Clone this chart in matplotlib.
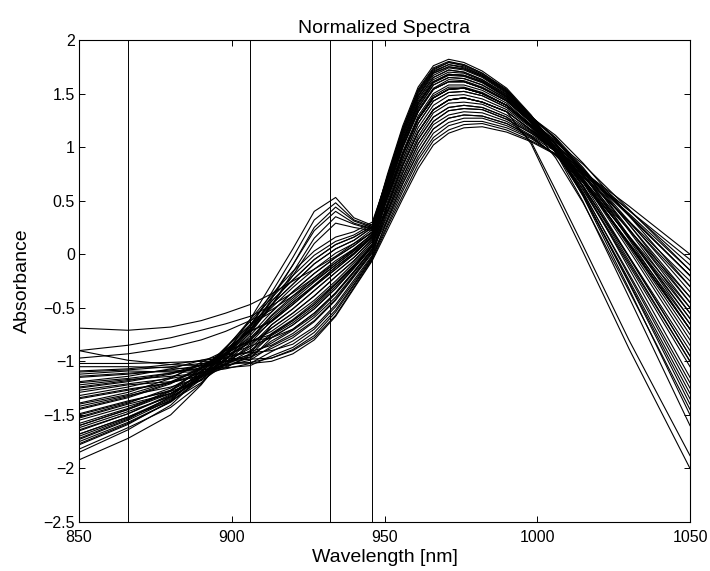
import matplotlib
matplotlib.use("Agg")
from matplotlib import pyplot as plt
from matplotlib.ticker import FuncFormatter

plt.rcParams['font.family'] = ['Liberation Sans', 'DejaVu Sans']

wavelength = [850, 866, 880, 890, 898, 906, 913, 920, 927, 934, 940, 946,
              951, 956, 961, 966, 971, 976, 982, 990, 998, 1006, 1015, 1030, 1050]

# main bundle of normalized spectra
main_spectra = [
    [-1.02, -1.02, -1.01, -1.00, -1.00, -1.02, -1.00, -0.93, -0.80, -0.58, -0.32, -0.06, 0.23, 0.52, 0.80, 1.02, 1.13, 1.18, 1.19, 1.14, 1.05, 0.93, 0.75, 0.41, -0.05],
    [-1.05, -1.05, -1.06, -1.08, -1.06, -1.04, -0.95, -0.87, -0.73, -0.52, -0.28, -0.03, 0.28, 0.59, 0.88, 1.09, 1.20, 1.24, 1.24, 1.18, 1.08, 0.93, 0.72, 0.31, -0.25],
    [-1.09, -1.07, -1.03, -0.99, -0.97, -0.98, -0.97, -0.89, -0.76, -0.54, -0.29, -0.04, 0.33, 0.66, 0.95, 1.17, 1.27, 1.30, 1.29, 1.22, 1.10, 0.96, 0.76, 0.38, -0.15],
    [-1.12, -1.09, -1.10, -1.10, -1.07, -1.02, -0.91, -0.81, -0.68, -0.47, -0.24, -0.01, 0.31, 0.62, 0.91, 1.13, 1.23, 1.27, 1.27, 1.20, 1.09, 0.93, 0.69, 0.23, -0.40],
    [-1.15, -1.12, -1.08, -1.04, -1.00, -0.96, -0.88, -0.78, -0.63, -0.43, -0.21, 0.01, 0.39, 0.72, 1.03, 1.24, 1.34, 1.36, 1.35, 1.26, 1.13, 0.97, 0.74, 0.30, -0.30],
    [-1.19, -1.14, -1.07, -0.99, -0.94, -0.92, -0.90, -0.84, -0.70, -0.49, -0.26, -0.02, 0.44, 0.79, 1.10, 1.32, 1.41, 1.42, 1.40, 1.30, 1.15, 0.96, 0.69, 0.16, -0.55],
    [-1.22, -1.17, -1.14, -1.11, -1.05, -0.96, -0.81, -0.70, -0.55, -0.36, -0.16, 0.05, 0.41, 0.76, 1.07, 1.28, 1.37, 1.39, 1.37, 1.28, 1.14, 0.99, 0.78, 0.36, -0.20],
    [-1.25, -1.19, -1.12, -1.04, -0.97, -0.91, -0.85, -0.74, -0.59, -0.40, -0.19, 0.03, 0.49, 0.86, 1.18, 1.39, 1.48, 1.49, 1.45, 1.35, 1.18, 0.97, 0.67, 0.09, -0.70],
    [-1.29, -1.22, -1.19, -1.14, -1.06, -0.94, -0.75, -0.62, -0.47, -0.28, -0.11, 0.08, 0.46, 0.83, 1.14, 1.35, 1.44, 1.46, 1.42, 1.33, 1.16, 0.98, 0.73, 0.23, -0.45],
    [-1.32, -1.24, -1.15, -1.03, -0.94, -0.86, -0.78, -0.66, -0.51, -0.32, -0.13, 0.07, 0.54, 0.93, 1.26, 1.46, 1.54, 1.55, 1.50, 1.39, 1.20, 0.97, 0.63, -0.02, -0.90],
    [-1.35, -1.27, -1.20, -1.11, -1.00, -0.88, -0.69, -0.55, -0.39, -0.21, -0.06, 0.12, 0.52, 0.89, 1.22, 1.43, 1.51, 1.52, 1.48, 1.37, 1.19, 0.99, 0.71, 0.15, -0.60],
    [-1.39, -1.29, -1.16, -1.01, -0.90, -0.82, -0.72, -0.58, -0.43, -0.25, -0.08, 0.10, 0.59, 1.00, 1.33, 1.54, 1.61, 1.61, 1.55, 1.43, 1.23, 1.06, 0.80, 0.31, -0.35],
    [-1.42, -1.32, -1.24, -1.15, -1.02, -0.86, -0.66, -0.51, -0.34, -0.17, -0.03, 0.14, 0.57, 0.96, 1.29, 1.50, 1.58, 1.58, 1.53, 1.41, 1.21, 0.96, 0.60, -0.10, -1.05],
    [-1.45, -1.34, -1.21, -1.06, -0.93, -0.80, -0.63, -0.47, -0.30, -0.14, 0.00, 0.16, 0.62, 1.03, 1.37, 1.58, 1.65, 1.64, 1.58, 1.45, 1.24, 1.02, 0.70, 0.09, -0.75],
    [-1.49, -1.37, -1.28, -1.18, -1.03, -0.84, -0.69, -0.55, -0.39, -0.21, -0.06, 0.12, 0.65, 1.06, 1.41, 1.61, 1.68, 1.67, 1.61, 1.47, 1.25, 1.06, 0.78, 0.24, -0.50],
    [-1.52, -1.39, -1.25, -1.09, -0.94, -0.78, -0.60, -0.43, -0.26, -0.10, 0.03, 0.17, 0.59, 1.00, 1.33, 1.54, 1.61, 1.61, 1.55, 1.43, 1.23, 0.96, 0.57, -0.18, -1.20],
    [-1.55, -1.42, -1.30, -1.15, -0.98, -0.79, -0.57, -0.39, -0.22, -0.06, 0.05, 0.19, 0.67, 1.10, 1.45, 1.65, 1.72, 1.70, 1.63, 1.49, 1.26, 1.03, 0.69, 0.04, -0.85],
    [-1.58, -1.44, -1.27, -1.06, -0.89, -0.72, -0.63, -0.47, -0.30, -0.14, 0.00, 0.16, 0.70, 1.13, 1.48, 1.69, 1.75, 1.73, 1.66, 1.51, 1.28, 1.11, 0.85, 0.36, -0.30],
    [-1.62, -1.47, -1.33, -1.17, -0.98, -0.76, -0.54, -0.35, -0.18, -0.03, 0.08, 0.21, 0.65, 1.06, 1.41, 1.61, 1.68, 1.67, 1.61, 1.47, 1.25, 0.96, 0.55, -0.26, -1.35],
    [-1.65, -1.49, -1.31, -1.10, -0.90, -0.71, -0.50, -0.31, -0.14, 0.01, 0.10, 0.23, 0.72, 1.17, 1.52, 1.72, 1.79, 1.76, 1.68, 1.53, 1.29, 1.08, 0.77, 0.17, -0.65],
    [-1.68, -1.52, -1.37, -1.20, -0.99, -0.73, -0.47, -0.28, -0.09, 0.05, 0.13, 0.25, 0.75, 1.20, 1.56, 1.76, 1.82, 1.79, 1.71, 1.55, 1.30, 0.99, 0.54, -0.32, -1.50],
    [-1.72, -1.54, -1.33, -1.09, -0.87, -0.66, -0.54, -0.35, -0.18, -0.03, 0.08, 0.21, 0.69, 1.12, 1.47, 1.67, 1.74, 1.72, 1.65, 1.50, 1.27, 1.03, 0.67, -0.02, -0.95],
    [-1.75, -1.57, -1.38, -1.17, -0.94, -0.68, -0.44, -0.24, -0.05, 0.09, 0.16, 0.26, 0.71, 1.15, 1.50, 1.70, 1.77, 1.74, 1.67, 1.52, 1.28, 1.09, 0.81, 0.28, -0.45],
    [-1.78, -1.59, -1.37, -1.11, -0.87, -0.63, -0.41, -0.20, -0.01, 0.12, 0.18, 0.28, 0.73, 1.18, 1.54, 1.74, 1.80, 1.77, 1.69, 1.54, 1.29, 1.02, 0.63, -0.13, -1.15],
    [-1.82, -1.62, -1.43, -1.21, -0.96, -0.66, -0.47, -0.28, -0.09, 0.05, 0.13, 0.25, 0.66, 1.08, 1.43, 1.63, 1.70, 1.69, 1.62, 1.48, 1.26, 1.03, 0.70, 0.07, -0.80],
    [-1.85, -1.64, -1.41, -1.14, -0.88, -0.61, -0.38, -0.16, 0.03, 0.16, 0.21, 0.30, 0.71, 1.15, 1.51, 1.71, 1.77, 1.75, 1.67, 1.52, 1.28, 0.99, 0.56, -0.27, -1.40],
    [-1.44, -1.33, -1.20, -1.05, -0.92, -0.81, -0.78, -0.70, -0.55, -0.36, -0.16, 0.05, 0.36, 0.69, 0.99, 1.21, 1.30, 1.33, 1.32, 1.24, 1.11, 0.98, 0.78, 0.41, -0.10],
    [-1.27, -1.21, -1.16, -1.11, -1.03, -0.93, -0.66, -0.51, -0.34, -0.17, -0.03, 0.14, 0.67, 1.10, 1.45, 1.65, 1.72, 1.70, 1.63, 1.49, 1.26, 0.95, 0.49, -0.40, -1.60],
    [-1.53, -1.40, -1.30, -1.17, -1.01, -0.81, -0.75, -0.62, -0.47, -0.28, -0.11, 0.08, 0.46, 0.83, 1.14, 1.35, 1.44, 1.46, 1.42, 1.33, 1.16, 1.01, 0.79, 0.37, -0.20],
    [-1.10, -1.08, -1.05, -1.02, -1.00, -0.98, -0.78, -0.66, -0.51, -0.32, -0.13, 0.07, 0.54, 0.93, 1.26, 1.46, 1.54, 1.55, 1.50, 1.39, 1.20, 0.96, 0.61, -0.08, -1.00],
    [-1.14, -1.11, -1.09, -1.08, -1.04, -0.99, -0.86, -0.76, -0.62, -0.42, -0.20, 0.02, 0.46, 0.83, 1.14, 1.35, 1.44, 1.46, 1.42, 1.33, 1.16, 0.96, 0.67, 0.11, -0.65],
    [-1.24, -1.18, -1.11, -1.03, -0.96, -0.91, -0.76, -0.64, -0.49, -0.30, -0.12, 0.08, 0.55, 0.94, 1.27, 1.48, 1.56, 1.56, 1.51, 1.39, 1.21, 1.03, 0.78, 0.28, -0.40],
    [-1.34, -1.26, -1.20, -1.13, -1.03, -0.90, -0.74, -0.61, -0.45, -0.27, -0.10, 0.09, 0.64, 1.05, 1.39, 1.60, 1.67, 1.66, 1.60, 1.46, 1.25, 0.98, 0.58, -0.20, -1.25],
    [-1.40, -1.31, -1.19, -1.07, -0.95, -0.83, -0.62, -0.45, -0.29, -0.12, 0.01, 0.16, 0.70, 1.13, 1.48, 1.69, 1.75, 1.73, 1.66, 1.51, 1.28, 1.08, 0.79, 0.22, -0.55],
    [-1.50, -1.38, -1.27, -1.13, -0.98, -0.81, -0.58, -0.41, -0.24, -0.08, 0.04, 0.19, 0.60, 1.01, 1.35, 1.55, 1.63, 1.62, 1.56, 1.44, 1.23, 0.99, 0.64, -0.03, -0.95],
    [-1.60, -1.45, -1.28, -1.07, -0.89, -0.72, -0.62, -0.45, -0.29, -0.12, 0.01, 0.16, 0.54, 0.93, 1.26, 1.46, 1.54, 1.55, 1.50, 1.39, 1.20, 1.05, 0.84, 0.42, -0.15],
    [-1.70, -1.53, -1.35, -1.14, -0.93, -0.70, -0.44, -0.24, -0.05, 0.09, 0.16, 0.26, 0.73, 1.17, 1.53, 1.73, 1.79, 1.77, 1.69, 1.53, 1.29, 1.07, 0.75, 0.14, -0.70],
    [-1.20, -1.16, -1.11, -1.06, -1.00, -0.94, -0.83, -0.71, -0.57, -0.37, -0.17, 0.04, 0.33, 0.66, 0.95, 1.17, 1.27, 1.30, 1.29, 1.22, 1.10, 0.92, 0.67, 0.17, -0.50],
]

# spectra with the early band near 934 nm
hump_spectra = [
    [-1.92, -1.72, -1.50, -1.22, -0.93, -0.61, -0.28, 0.05, 0.40, 0.53, 0.34, 0.27, 0.65, 1.06, 1.41, 1.61, 1.68, 1.67, 1.61, 1.47, 1.25, 1.00, 0.64, -0.06, -1.00],
    [-1.73, -1.55, -1.36, -1.14, -0.92, -0.68, -0.36, -0.03, 0.32, 0.48, 0.32, 0.26, 0.54, 0.93, 1.26, 1.46, 1.54, 1.55, 1.50, 1.39, 1.20, 0.99, 0.69, 0.10, -0.70],
    [-1.64, -1.49, -1.32, -1.13, -0.94, -0.72, -0.42, -0.10, 0.25, 0.44, 0.31, 0.25, 0.46, 0.83, 1.14, 1.35, 1.44, 1.46, 1.42, 1.33, 1.03, 0.55, 0.02, -0.88, -2.00],
    [-1.77, -1.58, -1.38, -1.15, -0.90, -0.66, -0.40, -0.10, 0.22, 0.40, 0.29, 0.24, 0.59, 1.00, 1.33, 1.54, 1.61, 1.61, 1.55, 1.43, 1.23, 0.95, 0.55, -0.24, -1.30],
    [-1.60, -1.45, -1.30, -1.12, -0.94, -0.74, -0.48, -0.17, 0.15, 0.35, 0.28, 0.23, 0.41, 0.76, 1.07, 1.28, 1.37, 1.39, 1.37, 1.28, 1.05, 0.60, 0.08, -0.80, -1.88],
    [-1.68, -1.52, -1.34, -1.14, -0.93, -0.70, -0.48, -0.20, 0.10, 0.29, 0.25, 0.22, 0.52, 0.89, 1.22, 1.43, 1.51, 1.52, 1.48, 1.37, 1.19, 0.90, 0.48, -0.34, -1.45],
]

# spectra lying above the bundle at the short-wavelength end
upper_spectra = [
    [-0.69, -0.71, -0.68, -0.62, -0.55, -0.47, -0.37, -0.25, -0.14, -0.02, 0.10, 0.20, 0.39, 0.72, 1.03, 1.24, 1.34, 1.36, 1.35, 1.26, 1.13, 0.98, 0.77, 0.36, -0.20],
    [-0.90, -0.85, -0.78, -0.71, -0.65, -0.58, -0.48, -0.36, -0.22, -0.08, 0.05, 0.18, 0.54, 0.93, 1.26, 1.46, 1.54, 1.55, 1.50, 1.39, 1.20, 0.99, 0.69, 0.10, -0.70],
    [-0.90, -0.99, -1.03, -1.04, -1.03, -1.01, -0.97, -0.90, -0.78, -0.57, -0.31, -0.05, 0.26, 0.55, 0.84, 1.06, 1.16, 1.21, 1.22, 1.16, 1.06, 0.94, 0.77, 0.45, 0.00],
    [-0.97, -0.93, -0.87, -0.80, -0.72, -0.62, -0.52, -0.39, -0.25, -0.10, 0.03, 0.16, 0.62, 1.03, 1.37, 1.58, 1.65, 1.64, 1.58, 1.45, 1.24, 1.04, 0.74, 0.17, -0.60],
]

# selected wavelengths marked with vertical lines
marker_wl = [866, 906, 932, 946]

x_ticks = [850, 900, 950, 1000, 1050]
y_ticks = [-2.5, -2, -1.5, -1, -0.5, 0, 0.5, 1, 1.5, 2]

fig = plt.figure(figsize=(7.1, 5.71), dpi=100)
ax = fig.add_axes([79/710, 1 - 522/571, 611/710, 482/571])

for spectrum in main_spectra + hump_spectra + upper_spectra:
    ax.plot(wavelength, spectrum, color='black', linewidth=0.8)

for wl in marker_wl:
    ax.axvline(wl, color='black', linewidth=0.7)

ax.set_xlim(850, 1050)
ax.set_ylim(-2.5, 2)
ax.set_xticks(x_ticks)
ax.set_yticks(y_ticks)
fmt = FuncFormatter(lambda v, pos: ('%g' % v).replace('-', '\u2212'))
ax.yaxis.set_major_formatter(fmt)
ax.xaxis.set_major_formatter(fmt)
ax.tick_params(direction='in', length=4, width=0.7, top=True, right=True,
               labelsize=11.5)
ax.tick_params(axis='x', pad=6)
ax.tick_params(axis='y', pad=3)
for spine in ax.spines.values():
    spine.set_linewidth(0.8)

ax.set_title("Normalized Spectra", fontsize=14, pad=5)
ax.set_xlabel("Wavelength [nm]", fontsize=14, labelpad=3)
ax.set_ylabel("Absorbance", fontsize=14, labelpad=9)

fig.savefig("out.png", dpi=100)
